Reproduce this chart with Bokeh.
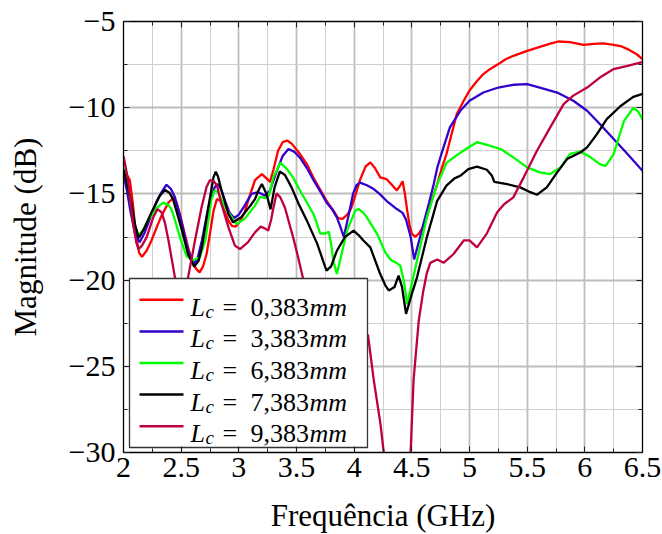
from bokeh.plotting import figure
from bokeh.models import (FixedTicker, LinearAxis, Label, Arrow,
                          CustomJSTickFormatter, Range1d)
from bokeh.embed import file_html
from bokeh.resources import INLINE

# ---------------- data ----------------
lc_values = ["0,383", "3,383", "6,383", "7,383", "9,383"]

freq_red = [2.00, 2.03, 2.055, 2.08, 2.11, 2.135, 2.16, 2.20, 2.243, 2.29, 2.33, 2.39, 2.43, 2.46,
            2.49, 2.53, 2.56, 2.60, 2.63, 2.66, 2.69, 2.72, 2.75, 2.78, 2.81, 2.84, 2.87, 2.91,
            2.94, 2.97, 3.01, 3.05, 3.09, 3.14, 3.20, 3.24, 3.27, 3.30, 3.34, 3.38, 3.42, 3.46,
            3.52, 3.59, 3.65, 3.71, 3.77, 3.82, 3.86, 3.90, 3.94, 3.97, 4.00, 4.05, 4.10, 4.14,
            4.18, 4.226, 4.28, 4.33, 4.37, 4.40, 4.42, 4.44, 4.46, 4.48, 4.50, 4.53, 4.56, 4.60,
            4.63, 4.67, 4.72, 4.76, 4.80, 4.85, 4.89, 4.95, 5.00, 5.06, 5.12, 5.18, 5.25, 5.31,
            5.38, 5.44, 5.50, 5.61, 5.70, 5.77, 5.87, 5.99, 6.08, 6.16, 6.25, 6.32, 6.37, 6.45, 6.50]
mag_red = [-13.4, -13.9, -14.2, -15.5, -17.5, -18.4, -18.65, -18.3, -17.7, -16.9, -16.26, -15.5, -15.25, -15.5,
           -16.2, -17.3, -18.1, -19.0, -19.35, -19.55, -19.2, -18.5, -17.3, -16.0, -15.3, -15.4, -15.9, -16.55,
           -16.85, -16.9, -16.6, -16.07, -15.2, -14.2, -13.85, -14.1, -14.3, -13.6, -12.5, -12.0, -11.9, -12.1,
           -12.6, -13.27, -14.1, -14.8, -15.5, -15.97, -16.4, -16.45, -16.2, -15.9, -15.3, -14.2, -13.4, -13.17,
           -13.5, -14.04, -14.14, -14.5, -14.8, -14.5, -14.27, -15.0, -15.97, -16.8, -17.3, -17.5, -17.3, -16.9,
           -16.36, -15.4, -14.43, -13.5, -12.7, -11.4, -10.37, -9.6, -9.0, -8.5, -8.05, -7.75, -7.47, -7.2,
           -6.99, -6.85, -6.7, -6.47, -6.28, -6.16, -6.2, -6.35, -6.3, -6.27, -6.35, -6.45, -6.6, -6.9, -7.18]

freq_blue = [2.00, 2.03, 2.06, 2.10, 2.14, 2.18, 2.243, 2.29, 2.33, 2.373, 2.41, 2.446, 2.50, 2.56,
             2.605, 2.64, 2.68, 2.735, 2.79, 2.82, 2.85, 2.88, 2.92, 2.96, 3.00, 3.05, 3.11, 3.17,
             3.226, 3.27, 3.33, 3.38, 3.43, 3.48, 3.53, 3.59, 3.65, 3.71, 3.76, 3.81, 3.85, 3.88,
             3.91, 3.95, 3.99, 4.02, 4.05, 4.11, 4.17, 4.22, 4.28, 4.37, 4.42, 4.45, 4.49, 4.52,
             4.56, 4.60, 4.65, 4.69, 4.72, 4.76, 4.83, 4.92, 5.00, 5.12, 5.25, 5.38, 5.50, 5.61,
             5.76, 5.90, 6.02, 6.13, 6.25, 6.37, 6.50]
mag_blue = [-13.9, -14.8, -16.0, -17.3, -17.8, -17.3, -16.2, -15.4, -14.9, -14.47, -14.7, -15.2, -16.55, -18.3,
            -19.06, -18.8, -17.7, -15.8, -14.62, -14.43, -14.8, -15.4, -16.1, -16.4, -16.2, -15.68, -15.0, -14.9,
            -15.1, -14.8, -13.65, -12.8, -12.4, -12.55, -12.9, -13.5, -14.23, -14.9, -15.5, -15.9, -16.36, -16.9,
            -17.5, -16.3, -15.0, -14.5, -14.35, -14.5, -14.72, -15.0, -15.4, -15.88, -16.1, -16.5, -17.5, -18.8,
            -17.8, -16.75, -15.5, -14.43, -13.5, -12.6, -11.14, -10.18, -9.6, -9.12, -8.83, -8.67, -8.63, -8.83,
            -9.12, -9.6, -10.18, -10.95, -11.82, -12.69, -13.66]

freq_green = [2.00, 2.03, 2.07, 2.10, 2.13, 2.17, 2.21, 2.29, 2.345, 2.39, 2.416, 2.45, 2.49, 2.546,
              2.60, 2.66, 2.71, 2.76, 2.79, 2.82, 2.86, 2.91, 2.98, 3.05, 3.14, 3.185, 3.226, 3.26,
              3.30, 3.36, 3.41, 3.47, 3.53, 3.59, 3.65, 3.706, 3.75, 3.78, 3.80, 3.82, 3.85, 3.88,
              3.94, 4.01, 4.04, 4.08, 4.11, 4.20, 4.27, 4.32, 4.36, 4.40, 4.43, 4.46, 4.50, 4.545,
              4.63, 4.72, 4.76, 4.80, 4.89, 4.98, 5.065, 5.15, 5.27, 5.38, 5.50, 5.61, 5.70, 5.79,
              5.87, 5.96, 6.05, 6.13, 6.18, 6.25, 6.30, 6.34, 6.42, 6.46, 6.50]
mag_green = [-13.0, -14.2, -15.8, -16.9, -17.4, -17.1, -16.55, -15.8, -15.5, -15.65, -15.9, -16.6, -17.52, -18.6,
             -18.85, -18.7, -17.7, -15.4, -14.8, -14.9, -15.5, -16.07, -16.75, -16.45, -15.68, -15.15, -15.25, -15.1,
             -14.04, -13.2, -13.5, -14.04, -14.8, -15.5, -16.2, -17.3, -17.3, -17.2, -17.9, -18.9, -19.65, -18.8,
             -17.1, -15.97, -15.88, -16.1, -16.36, -17.33, -18.4, -18.85, -18.97, -19.16, -20.03, -21.4, -20.2, -18.87,
             -16.36, -14.43, -13.85, -13.2, -12.75, -12.35, -12.0, -12.15, -12.4, -12.88, -13.46, -13.75, -13.85, -13.46,
             -12.69, -12.54, -12.88, -13.27, -13.37, -12.69, -11.6, -10.76, -10.02, -10.2, -10.66]

freq_black = [2.00, 2.03, 2.07, 2.10, 2.133, 2.18, 2.243, 2.315, 2.36, 2.40, 2.43, 2.50, 2.56, 2.613,
              2.65, 2.68, 2.735, 2.78, 2.80, 2.82, 2.85, 2.91, 2.95, 3.02, 3.10, 3.14, 3.17, 3.20,
              3.24, 3.275, 3.31, 3.356, 3.40, 3.457, 3.52, 3.59, 3.68, 3.735, 3.76, 3.80, 3.85, 3.92,
              3.995, 4.04, 4.08, 4.14, 4.226, 4.27, 4.30, 4.35, 4.385, 4.415, 4.45, 4.50, 4.545, 4.63,
              4.72, 4.80, 4.87, 4.92, 4.99, 5.065, 5.15, 5.195, 5.215, 5.325, 5.44, 5.527, 5.585, 5.67,
              5.76, 5.846, 5.96, 6.02, 6.105, 6.19, 6.31, 6.42, 6.50]
mag_black = [-13.6, -14.4, -15.6, -16.8, -17.56, -17.0, -16.07, -15.1, -14.77, -14.95, -15.3, -16.94, -18.5, -19.22,
             -18.9, -18.1, -15.8, -14.04, -13.71, -14.0, -14.8, -16.17, -16.65, -16.36, -15.68, -15.3, -14.8, -14.43,
             -15.0, -15.9, -14.62, -13.7, -13.9, -14.62, -15.6, -16.55, -17.9, -18.97, -19.45, -19.2, -18.3, -17.5,
             -17.13, -17.4, -17.7, -18.1, -19.65, -20.3, -20.6, -20.4, -19.74, -20.4, -21.96, -20.8, -19.84, -17.52,
             -15.4, -14.52, -14.1, -13.95, -13.56, -13.42, -13.6, -13.95, -14.3, -14.43, -14.62, -14.9, -15.05, -14.62,
             -13.75, -12.98, -12.6, -12.3, -11.53, -10.66, -9.9, -9.37, -9.2]

freq_purple = [2.00, 2.02, 2.04, 2.084, 2.11, 2.13, 2.16, 2.20, 2.258, 2.295, 2.33, 2.36, 2.39, 2.446,
               2.50, 2.56, 2.62, 2.676, 2.72, 2.75, 2.78, 2.81, 2.85, 2.91, 2.966, 3.01, 3.08, 3.14,
               3.19, 3.225, 3.255, 3.28, 3.30, 3.327, 3.36, 3.40, 3.47, 3.515, 3.56, 3.70, 3.90, 4.05,
               4.12, 4.17, 4.227, 4.255, 4.30, 4.38, 4.45, 4.49, 4.515, 4.56, 4.60, 4.63, 4.66, 4.72,
               4.775, 4.86, 4.95, 5.00, 5.065, 5.15, 5.24, 5.30, 5.38, 5.47, 5.585, 5.70, 5.816, 5.90,
               6.02, 6.13, 6.25, 6.37, 6.48, 6.50]
mag_purple = [-12.8, -13.5, -14.23, -16.75, -17.8, -18.2, -18.0, -17.52, -16.36, -15.88, -16.07, -16.7, -17.7, -19.84,
              -21.5, -19.84, -17.7, -15.8, -14.6, -14.2, -14.25, -14.5, -15.6, -16.94, -18.0, -18.2, -17.8, -17.23,
              -16.9, -17.0, -17.13, -16.5, -15.8, -14.97, -15.2, -15.8, -17.5, -18.7, -20.0, -21.8, -22.5, -22.8,
              -23.2, -25.8, -28.3, -29.9, -32.0, -33.0, -32.0, -29.9, -25.8, -22.35, -20.6, -19.6, -19.0, -18.8,
              -19.0, -18.5, -17.7, -17.7, -18.1, -17.3, -16.07, -15.6, -15.2, -14.04, -12.5, -11.14, -9.79, -9.3,
              -8.83, -8.25, -7.76, -7.57, -7.38, -7.35]

x_ticks = [2.0, 2.5, 3.0, 3.5, 4.0, 4.5, 5.0, 5.5, 6.0, 6.5]
x_tick_labels = ["2", "2.5", "3", "3.5", "4", "4.5", "5", "5.5", "6", "6.5"]
x_minor = [2.25, 2.75, 3.25, 3.75, 4.25, 4.75, 5.25, 5.75, 6.25]
y_ticks = [-30, -25, -20, -15, -10, -5]
y_tick_labels = ["\u221230", "\u221225", "\u221220", "\u221215", "\u221210", "\u22125"]
y_minor = [-27.5, -22.5, -17.5, -12.5, -7.5]

colors = ["#ff0000", "#3300cc", "#00ff00", "#000000", "#bf0040"]
series = [(freq_red, mag_red), (freq_blue, mag_blue), (freq_green, mag_green),
          (freq_black, mag_black), (freq_purple, mag_purple)]

FONT = "Liberation Serif"
X0, X1, Y0, Y1 = 2.0, 6.5, -30.0, -5.0
FW, FH = 519, 431

# ---------------- figure ----------------
p = figure(frame_width=FW, frame_height=FH, min_border_left=123, min_border_right=19,
           min_border_top=21, min_border_bottom=80,
           x_range=Range1d(X0, X1), y_range=Range1d(Y0, Y1),
           output_backend="svg", toolbar_location=None,
           background_fill_color="white", border_fill_color="white")
p.outline_line_color = "black"
p.outline_line_width = 1.3

xticker = FixedTicker(ticks=x_ticks, minor_ticks=x_minor)
yticker = FixedTicker(ticks=y_ticks, minor_ticks=y_minor)
xfmt = CustomJSTickFormatter(args=dict(vals=x_ticks, labs=x_tick_labels),
                             code="const i = vals.indexOf(tick); return i >= 0 ? labs[i] : '';")
yfmt = CustomJSTickFormatter(args=dict(vals=y_ticks, labs=y_tick_labels),
                             code="const i = vals.indexOf(tick); return i >= 0 ? labs[i] : '';")

for ax, tk, fm in ((p.xaxis[0], xticker, xfmt), (p.yaxis[0], yticker, yfmt)):
    ax.ticker = tk
    ax.formatter = fm
    ax.major_label_text_font = FONT
    ax.major_label_text_font_size = "30px"
    ax.major_label_text_color = "black"
    ax.axis_label_text_font = FONT
    ax.axis_label_text_font_size = "31px"
    ax.axis_label_text_font_style = "normal"
    ax.axis_label_text_color = "black"
    ax.major_tick_in = 6
    ax.major_tick_out = 0
    ax.minor_tick_in = 4
    ax.minor_tick_out = 0
    ax.major_tick_line_color = "#222222"
    ax.minor_tick_line_color = "#222222"
    ax.axis_line_color = "black"

p.xaxis.axis_label = "Frequência (GHz)"
p.yaxis.axis_label = "Magnitude (dB)"
p.xaxis.major_label_standoff = 5
p.xaxis.axis_label_standoff = 18
p.yaxis.major_label_standoff = 8
p.yaxis.axis_label_standoff = 23

# mirrored ticks on top and right (no labels drawn)
for loc, tk in (("above", xticker), ("right", yticker)):
    ax = LinearAxis(ticker=tk, major_label_text_font_size="1px", major_label_text_color=None,
                    major_label_standoff=0,
                    major_tick_in=6, major_tick_out=0, minor_tick_in=4, minor_tick_out=0,
                    major_tick_line_color="#222222", minor_tick_line_color="#222222",
                    axis_line_color="black")
    p.add_layout(ax, loc)

for g, tk in ((p.xgrid[0], xticker), (p.ygrid[0], yticker)):
    g.ticker = tk
    g.grid_line_color = "#bdbdbd"
    g.grid_line_width = 1.8
    g.minor_grid_line_color = "#cfcfcf"
    g.minor_grid_line_width = 1

for (fx, my), c in zip(series, colors):
    p.line(fx, my, line_color=c, line_width=2.3)

# ---------------- legend (frame-relative pixel geometry) ----------------
box_l, box_r, box_b, box_t = 6, 244, 5, 174
first_row, row_pitch = 21.3, 31.6
line_x0, line_x1 = 16, 60
text_x0 = 67

def px_to_x(px):
    return X0 + px * (X1 - X0) / FW

def px_to_y(py):
    return Y0 + py * (Y1 - Y0) / FH

# opaque legend background drawn above the curves
p.quad(left=[px_to_x(box_l)], right=[px_to_x(box_r)], bottom=[px_to_y(box_b)], top=[px_to_y(box_t)],
       fill_color="white", fill_alpha=1.0, line_color="#333333", line_width=1.3)

for i, (val, c) in enumerate(zip(lc_values, colors)):
    center = box_t - first_row - i * row_pitch
    p.add_layout(Arrow(x_start=line_x0, y_start=center, x_end=line_x1, y_end=center,
                       start_units="screen", end_units="screen", start=None, end=None,
                       line_color=c, line_width=2.5, level="overlay"))
    base = center - 7.5
    common = dict(x_units="screen", y_units="screen", text_font=FONT,
                  text_baseline="alphabetic", text_color="black", level="overlay")
    p.add_layout(Label(x=text_x0, y=base, text="L", text_font_style="italic",
                       text_font_size="26px", **common))
    p.add_layout(Label(x=text_x0 + 15, y=base - 4, text="c", text_font_style="italic",
                       text_font_size="19px", **common))
    p.add_layout(Label(x=text_x0 + 32, y=base, text="=", text_font_size="26px", **common))
    p.add_layout(Label(x=text_x0 + 60, y=base, text=val, text_font_size="26px", **common))
    p.add_layout(Label(x=text_x0 + 119, y=base, text="mm", text_font_style="italic",
                       text_font_size="26px", **common))

open("out.html", "w").write(file_html(p, INLINE))
